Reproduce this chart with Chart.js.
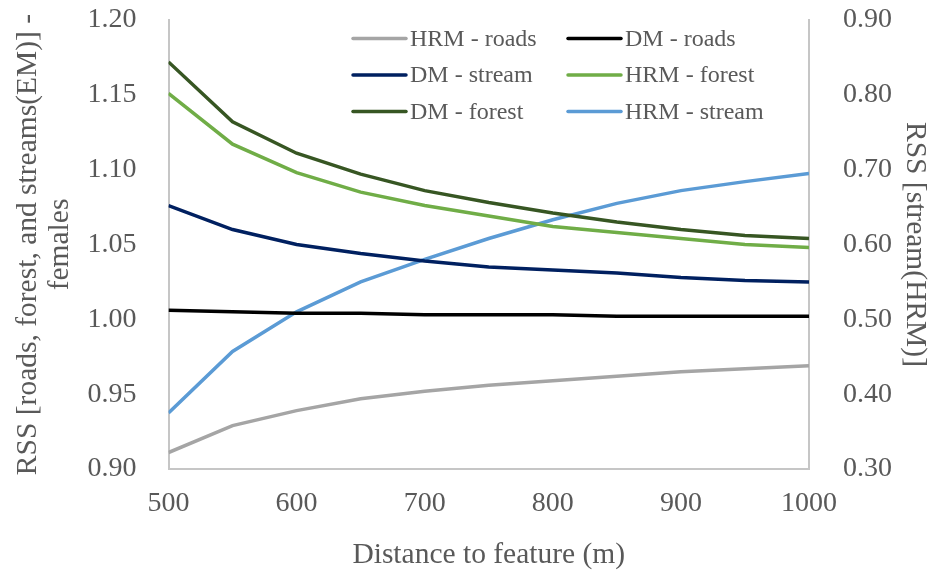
<!DOCTYPE html>
<html>
<head>
<meta charset="utf-8">
<script src="https://cdn.jsdelivr.net/npm/chart.js@4"></script>
<style>
  html, body { margin: 0; padding: 0; background: #ffffff; }
  #wrap { width: 934px; height: 582px; }
</style>
</head>
<body>
<div id="wrap"><canvas id="c" width="934" height="582"></canvas></div>
<script>
// Distance to feature (m)
const distances = [500, 550, 600, 650, 700, 750, 800, 850, 900, 950, 1000];

// Relative selection strength, left axis
const hrmRoads   = [0.911, 0.929, 0.939, 0.947, 0.952, 0.956, 0.959, 0.962, 0.965, 0.967, 0.969];
const dmRoads    = [1.006, 1.005, 1.004, 1.004, 1.003, 1.003, 1.003, 1.002, 1.002, 1.002, 1.002];
const dmStream   = [1.076, 1.060, 1.050, 1.044, 1.039, 1.035, 1.033, 1.031, 1.028, 1.026, 1.025];
const hrmForest  = [1.151, 1.117, 1.098, 1.085, 1.076, 1.069, 1.062, 1.058, 1.054, 1.050, 1.048];
const dmForest   = [1.172, 1.132, 1.111, 1.097, 1.086, 1.078, 1.071, 1.065, 1.060, 1.056, 1.054];

// Relative selection strength for streams (HRM), right axis
const hrmStream  = [0.375, 0.457, 0.510, 0.550, 0.580, 0.608, 0.633, 0.655, 0.672, 0.684, 0.695];

const seriesNames = ['HRM - roads', 'DM - roads', 'DM - stream', 'HRM - forest', 'DM - forest', 'HRM - stream'];
const seriesColors = ['#a5a5a5', '#000000', '#002060', '#70ad47', '#375623', '#5b9bd5'];
const seriesValues = [hrmRoads, dmRoads, dmStream, hrmForest, dmForest, hrmStream];
const seriesAxis = ['yL', 'yL', 'yL', 'yL', 'yL', 'yR'];

const textColor = '#595959';
const axisColor = '#c6c6c6';
const serif = '"Liberation Serif", "Times New Roman", serif';

const datasets = seriesNames.map((name, i) => ({
  label: name,
  data: distances.map((d, k) => ({ x: d, y: seriesValues[i][k] })),
  borderColor: seriesColors[i],
  backgroundColor: seriesColors[i],
  borderWidth: 3.5,
  pointRadius: 0,
  tension: 0,
  fill: false,
  yAxisID: seriesAxis[i]
}));

// Two-column legend drawn inside the plot area
const gridLegend = {
  id: 'gridLegend',
  afterDatasetsDraw(chart) {
    const ctx = chart.ctx;
    const colX = [353, 568];
    const rowY = [38.5, 75, 111.5];
    const sampleLen = 53;
    ctx.save();
    ctx.font = '24px ' + serif;
    ctx.textBaseline = 'middle';
    ctx.textAlign = 'left';
    chart.data.datasets.forEach((ds, i) => {
      const x = colX[i % 2];
      const y = rowY[Math.floor(i / 2)];
      ctx.strokeStyle = ds.borderColor;
      ctx.lineWidth = 3.5;
      ctx.lineCap = 'round';
      ctx.beginPath();
      ctx.moveTo(x, y);
      ctx.lineTo(x + sampleLen, y);
      ctx.stroke();
      ctx.fillStyle = textColor;
      ctx.fillText(ds.label, x + sampleLen + 4, y + 1);
    });
    ctx.restore();
  }
};

// Vertical axes keep their labels inside the fixed margins
function fixVertical(width) {
  return function (scale) {
    scale.width = width;
    scale.paddingTop = 0;
    scale.paddingBottom = 0;
  };
}

new Chart(document.getElementById('c'), {
  type: 'line',
  data: { datasets },
  plugins: [gridLegend],
  options: {
    responsive: false,
    animation: false,
    layout: { padding: { top: 20, left: 0, right: 0, bottom: 0 } },
    plugins: {
      legend: { display: false },
      tooltip: { enabled: false }
    },
    scales: {
      x: {
        type: 'linear',
        min: 500,
        max: 1000,
        grid: { display: false },
        border: { display: true, color: axisColor, width: 2 },
        ticks: {
          stepSize: 100,
          padding: 10,
          color: textColor,
          font: { family: serif, size: 28 },
          maxRotation: 0,
          callback: v => String(v)
        },
        title: {
          display: true,
          text: 'Distance to feature (m)',
          color: textColor,
          font: { family: serif, size: 29.5 },
          padding: { top: 0, bottom: 9 }
        },
        afterFit(scale) {
          scale.height = 113;
          scale.paddingLeft = 0;
          scale.paddingRight = 0;
        }
      },
      yL: {
        position: 'left',
        min: 0.9,
        max: 1.2,
        grid: { display: false },
        border: { display: true, color: axisColor, width: 2 },
        ticks: {
          stepSize: 0.05,
          padding: 24,
          color: textColor,
          font: { family: serif, size: 28 },
          callback: v => Number(v).toFixed(2)
        },
        title: {
          display: true,
          text: ['RSS [roads, forest, and streams(EM)] -', 'females'],
          color: textColor,
          font: { family: serif, size: 29.5, lineHeight: 1.1 },
          padding: { top: 12, bottom: 0 }
        },
        afterFit: fixVertical(168.5)
      },
      yR: {
        position: 'right',
        min: 0.3,
        max: 0.9,
        grid: { display: false },
        border: { display: true, color: axisColor, width: 2 },
        ticks: {
          stepSize: 0.1,
          padding: 26,
          color: textColor,
          font: { family: serif, size: 28 },
          callback: v => Number(v).toFixed(2)
        },
        title: {
          display: true,
          text: 'RSS [stream(HRM)]',
          color: textColor,
          font: { family: serif, size: 29.5, lineHeight: 1.1 },
          padding: { top: 3, bottom: 0 }
        },
        afterFit: fixVertical(125)
      }
    }
  }
});
</script>
</body>
</html>
